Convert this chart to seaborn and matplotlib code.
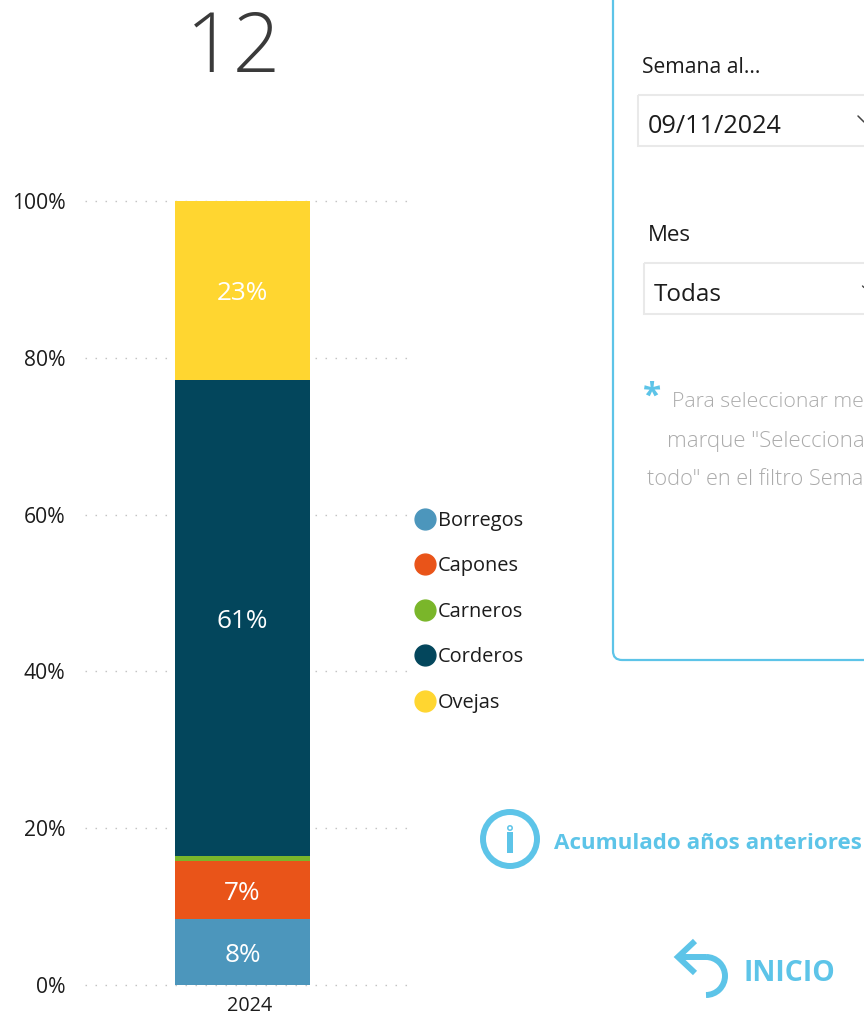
#!/usr/bin/env python3

import matplotlib
matplotlib.use('Agg')
import matplotlib.pyplot as plt
import matplotlib.transforms as mtrans
from matplotlib.lines import Line2D
from matplotlib.patches import Arc, Circle, FancyBboxPatch, Rectangle
import numpy as np
import pandas as pd
import seaborn as sns

YEAR = [2024]
CATEGORIES = ['Borregos', 'Capones', 'Carneros', 'Corderos', 'Ovejas']
VALUES = [8.4, 7.4, 0.6, 60.8, 22.8]
BAR_LABELS = ['8%', '7%', '', '61%', '23%']
COLORS = ['#4C96BC', '#E95419', '#7AB62A', '#03465C', '#FFD630']
Y_TICKS = [0, 20, 40, 60, 80, 100]
Y_TICK_LABELS = ['0%', '20%', '40%', '60%', '80%', '100%']
BIG_NUMBER = '12'

BLUE = '#5DC4E8'
FONT = 'Open Sans'
W, H = 864, 1016


def draw_chart(fig):
    ax = fig.add_axes([85 / W, (H - 985) / H, 323 / W, 784 / H])
    data = pd.DataFrame({'year': YEAR * len(CATEGORIES), 'cat': CATEGORIES, 'pct': VALUES})
    # histplot puts the first hue level on top of the stack
    sns.histplot(data, x='year', hue='cat', weights='pct', multiple='stack', discrete=True,
                 shrink=0.8, hue_order=CATEGORIES[::-1], palette=dict(zip(CATEGORIES, COLORS)),
                 alpha=1, linewidth=0, legend=False, ax=ax)

    # bar is 135 px wide, centred on 242.5 px
    unit = 135 / 0.8
    ax.set_xlim(2024 - (242.5 - 85) / unit, 2024 + (408 - 242.5) / unit)
    ax.set_ylim(0, 100)
    ax.set_xlabel('')
    ax.set_ylabel('')
    sns.despine(ax=ax, left=True, bottom=True)

    ax.set_yticks(Y_TICKS)
    ax.set_yticklabels(Y_TICK_LABELS, fontsize=15.2, color='#1c1c1c')
    ax.set_xticks(YEAR)
    ax.set_xticklabels([str(y) for y in YEAR], fontsize=14.2, color='#1c1c1c')
    ax.tick_params(axis='y', length=0, pad=14)
    ax.tick_params(axis='x', length=0, pad=2)
    # nudge the year label the way the source has it
    shift = mtrans.ScaledTranslation(7.5 / 100, -8 / 100, fig.dpi_scale_trans)
    for label in ax.get_xticklabels():
        label.set_transform(label.get_transform() + shift)

    ax.set_axisbelow(True)
    ax.grid(axis='y', color='#c4c4c4', linewidth=1, linestyle=(0, (1.1, 6.1)))
    ax.grid(axis='x', visible=False)
    for line in ax.get_ygridlines():
        line.set_clip_on(False)

    tops = np.cumsum(VALUES)
    for top, value, label in zip(tops, VALUES, BAR_LABELS):
        ax.text(2024, top - value / 2, label, color='white', fontsize=18.8, family=FONT,
                ha='center', va='center_baseline')

    handles = [Line2D([], [], linestyle='', marker='o', markersize=15, color=c) for c in COLORS]
    ax.legend(handles, CATEGORIES, loc='upper left', frameon=False, fontsize=14.4,
              bbox_to_anchor=(411 / W, (H - 511) / H), bbox_transform=fig.transFigure,
              labelspacing=1.27, handletextpad=-0.05, handlelength=1.4, borderpad=0,
              borderaxespad=0, labelcolor='#1c1c1c')


def draw_panel(fig):
    # page elements placed in pixel coordinates
    page = fig.add_axes([0, 0, 1, 1], zorder=-1)
    page.set_xlim(0, W)
    page.set_ylim(H, 0)
    page.axis('off')

    page.add_patch(FancyBboxPatch((613, -60), 400, 720, boxstyle='round,pad=0,rounding_size=9',
                                  fill=False, edgecolor=BLUE, linewidth=1.6))

    page.text(234, 72, BIG_NUMBER, fontsize=60, color='#3a3a3a', ha='center', family=FONT, weight='light')

    page.text(642, 73, 'Semana al...', fontsize=15.2, color='#1c1c1c', family=FONT)
    page.add_patch(Rectangle((637.5, 94.5), 300, 51, fill=False, edgecolor='#e9e9e9', linewidth=1.5))
    page.text(648, 133, '09/11/2024', fontsize=18.2, color='#1c1c1c', family=FONT)
    page.add_line(Line2D([858, 864], [116, 122], color='#444444', linewidth=1.1))

    page.text(648, 241, 'Mes', fontsize=16, color='#1c1c1c', family=FONT)
    page.add_patch(Rectangle((643.5, 262.5), 300, 51, fill=False, edgecolor='#e9e9e9', linewidth=1.5))
    page.text(654, 301, 'Todas', fontsize=17.5, color='#1c1c1c', family=FONT)
    page.add_line(Line2D([862.5, 864], [286, 287.5], color='#444444', linewidth=1))

    page.text(643, 406, '*', fontsize=24, color=BLUE, weight='bold', family=FONT)
    note_kw = dict(color='#ababab', family=FONT, weight='light')
    page.text(672, 407, 'Para seleccionar me', fontsize=15.3, **note_kw)
    page.text(667, 447, 'marque "Selecciona', fontsize=16, **note_kw)
    page.text(647, 485, 'todo" en el filtro Sema', fontsize=15.7, **note_kw)

    # info icon
    page.add_patch(Circle((510, 839), 27, fill=False, edgecolor=BLUE, linewidth=4.3))
    page.add_patch(Rectangle((507, 832), 6, 21, color=BLUE, linewidth=0))
    page.add_patch(Circle((510, 828), 2.2, fill=False, edgecolor=BLUE, linewidth=1.1))
    page.text(554, 849, 'Acumulado años anteriores', fontsize=16.1, color=BLUE, weight='bold', family=FONT)

    # back arrow
    arrow_kw = dict(color=BLUE, linewidth=4.3, solid_capstyle='butt', solid_joinstyle='miter')
    page.add_line(Line2D([695, 678, 695], [941, 957, 973], **arrow_kw))
    page.add_line(Line2D([678, 706], [957, 957], **arrow_kw))
    page.add_patch(Arc((706, 976), 38, 38, theta1=-90, theta2=90, edgecolor=BLUE, linewidth=4.3))
    page.text(744, 981, 'INICIO', fontsize=20.4, color=BLUE, weight='bold', family=FONT)


def main():
    sns.set_theme(style='white')
    plt.rcParams['font.family'] = [FONT, 'DejaVu Sans']
    fig = plt.figure(figsize=(W / 100, H / 100), dpi=100, facecolor='white')
    draw_panel(fig)
    draw_chart(fig)
    fig.savefig('out.png', dpi=100)


if __name__ == "__main__":
    main()
